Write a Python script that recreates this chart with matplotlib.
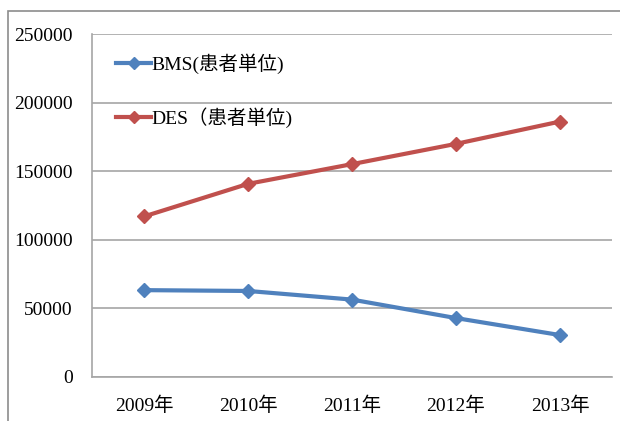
import matplotlib.pyplot as plt
from matplotlib.patches import Rectangle

plt.rcParams['font.family'] = ['Liberation Serif', 'Noto Sans CJK JP']

years = ['2009年', '2010年', '2011年', '2012年', '2013年']
bms = [63200, 62600, 56300, 42800, 30400]
des = [117000, 140800, 155200, 170000, 186300]
bms_label = 'BMS(患者単位)'
des_label = 'DES（患者単位)'
y_ticks = [0, 50000, 100000, 150000, 200000, 250000]

blue = '#4F81BD'
red = '#C0504D'
grid_c = '#A6A6A6'

fig = plt.figure(figsize=(6.2, 4.21), dpi=100)
ax = fig.add_axes([92 / 620, 1 - 376.7 / 421, 520 / 620, 342.4 / 421])

# 外枠
fig.patches.append(Rectangle((8 / 620, -0.1), 1.2, (421 - 11) / 421 + 0.1,
                             transform=fig.transFigure, fill=False,
                             edgecolor='#8C8C8C', linewidth=1.2))

x = list(range(len(years)))
ax.plot(x, bms, color=blue, linewidth=3, marker='D', markersize=7,
        label=bms_label)
ax.plot(x, des, color=red, linewidth=3, marker='D', markersize=7,
        label=des_label)

ax.set_xlim(-0.5, len(years) - 0.5)
ax.set_ylim(0, 250000)
ax.set_yticks(y_ticks)
ax.set_yticklabels([str(v) for v in y_ticks])
ax.set_xticks(x)
ax.set_xticklabels(years)
ax.tick_params(axis='both', length=0, labelsize=14)
ax.tick_params(axis='y', pad=14)
ax.tick_params(axis='x', pad=14)

ax.yaxis.grid(True, color=grid_c, linewidth=1.2)
ax.set_axisbelow(True)
for s in ['top', 'right']:
    ax.spines[s].set_visible(False)
ax.spines['left'].set_color(grid_c)
ax.spines['bottom'].set_color(grid_c)
ax.spines['left'].set_linewidth(1.2)
ax.spines['bottom'].set_linewidth(1.2)

leg = ax.legend(loc='upper left', bbox_to_anchor=(0.013, 0.995), frameon=False,
                fontsize=14, handlelength=1.8, handletextpad=0.0,
                labelspacing=1.7, markerscale=0.85)

fig.savefig('out.png', dpi=100)
